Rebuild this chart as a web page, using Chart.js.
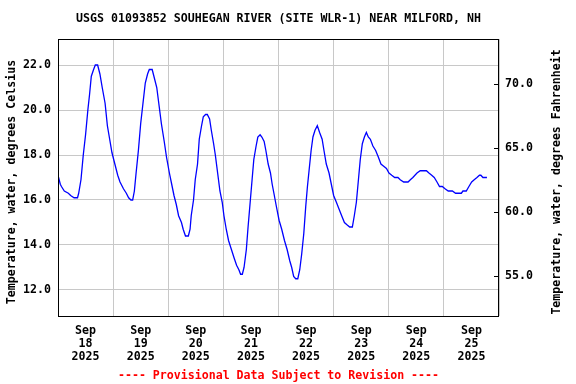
<!DOCTYPE html>
<html>
<head>
<meta charset="utf-8">
<script src="https://cdn.jsdelivr.net/npm/chart.js@4.4.1/dist/chart.umd.min.js"></script>
<style>
  html, body { margin: 0; padding: 0; background: #ffffff; }
  canvas { display: block; }
</style>
</head>
<body>
<canvas id="c" width="576" height="384"></canvas>
<script>
// ---- Data (hours since Sep 18 2025 00:00, water temperature in °C) ----
const hours = [0,1,1.5,2.75,4.5,5.5,7,8.5,9,10,11,12,13,13.75,14.5,15.5,16.25,17.25,18.25,19.25,20.5,21.5,22.5,23.5,24.75,26,27,28.5,29.75,30.75,31.75,32.5,33.25,34,35,36,37,38,39,39.75,41,41.75,43,44,45,46.25,47.25,48.5,49.5,50.5,51.5,52.5,53.75,54.5,55.5,56.75,57.5,58,59,59.75,60.75,61.5,62.5,63.25,64.25,65,66,66.75,67.75,68.5,69.5,70.5,71.5,72.25,73.25,74.25,75.5,76.75,77.75,78.75,79.5,80.25,81,82,82.75,83.75,84.5,85.25,86.25,87,88,88.75,89.75,90.5,91.5,92.5,93.25,94,95.1,96.25,97.4,98.6,99.75,100.9,101.75,102.6,103.5,104.4,105.25,106.1,107,107.85,108.6,109.3,110.2,111,111.9,112.9,113.9,115,115.8,116.8,118,119,120,121.2,122.35,123.5,124.7,125.8,127,128.15,129,129.9,130.8,131.6,132.5,133.4,134.25,135.1,136,137.1,138.3,139.5,140.6,141.8,143,144.1,145.3,146.6,148,149,150.5,152.4,153.4,154.5,156.3,157.7,160.4,161.5,162.7,163.8,165,166.1,167.3,168.5,169.9,171.7,173.1,175.6,176.3,177.75,178.9,180.1,181.2,182.4,183.5,184.1,185,186.75];
const tempC = [17.1,16.7,16.6,16.4,16.3,16.2,16.1,16.1,16.3,16.9,18.0,18.9,20.0,20.7,21.5,21.8,22.0,22.0,21.6,21.0,20.3,19.3,18.7,18.1,17.6,17.1,16.8,16.5,16.3,16.1,16.0,16.0,16.4,17.2,18.2,19.4,20.3,21.2,21.6,21.8,21.8,21.5,21.0,20.2,19.4,18.6,17.9,17.2,16.7,16.2,15.8,15.3,15.0,14.7,14.4,14.4,14.7,15.3,16.0,16.9,17.6,18.7,19.3,19.7,19.8,19.8,19.6,19.1,18.5,18.0,17.2,16.4,15.9,15.3,14.7,14.2,13.8,13.4,13.1,12.9,12.7,12.7,13.0,13.8,14.8,16.0,16.9,17.8,18.4,18.8,18.9,18.8,18.6,18.2,17.6,17.2,16.7,16.3,15.7,15.1,14.7,14.2,13.8,13.3,13.0,12.6,12.5,12.5,12.9,13.6,14.5,15.7,16.6,17.3,18.2,18.8,19.1,19.3,19.0,18.7,18.2,17.6,17.2,16.7,16.2,15.9,15.6,15.3,15.0,14.9,14.8,14.8,15.3,15.9,16.9,17.8,18.5,18.8,19.0,18.8,18.7,18.4,18.2,17.9,17.6,17.5,17.4,17.2,17.1,17.0,17.0,16.9,16.8,16.8,16.9,17.0,17.2,17.3,17.3,17.2,17.1,17.0,16.8,16.6,16.6,16.5,16.4,16.4,16.3,16.3,16.4,16.4,16.6,16.8,16.9,17.0,17.1,17.1,17.0,17.0];

// ---- Tick labels ----
const dayTickHours = [12,36,60,84,108,132,156,180];
const dayMonth = 'Sep';
const dayNumbers = ['18','19','20','21','22','23','24','25'];
const dayYear = '2025';
const celsiusTicks = [12,14,16,18,20,22];
const fahrenheitTicks = [55,60,65,70];

// ---- Texts ----
const chartTitle = 'USGS 01093852 SOUHEGAN RIVER (SITE WLR-1) NEAR MILFORD, NH';
const leftTitle = 'Temperature, water, degrees Celsius';
const rightTitle = 'Temperature, water, degrees Fahrenheit';
const footerText = '---- Provisional Data Subject to Revision ----';

const FONT_FAMILY = '"DejaVu Sans Mono", "Liberation Mono", monospace';
const FONT_SIZE = 11.6;
const fontStr = 'bold ' + FONT_SIZE + 'px ' + FONT_FAMILY;

const points = hours.map((h, i) => ({ x: h, y: tempC[i] }));

const decorPlugin = {
  id: 'decor',
  beforeDraw(chart) {
    const ctx = chart.ctx;
    ctx.save();
    ctx.fillStyle = '#ffffff';
    ctx.fillRect(0, 0, chart.width, chart.height);
    ctx.restore();
  },
  afterDraw(chart) {
    const ctx = chart.ctx;
    const a = chart.chartArea;
    const cx = (a.left + a.right) / 2;
    ctx.save();
    // frame
    ctx.strokeStyle = '#000000';
    ctx.lineWidth = 1;
    ctx.strokeRect(a.left + 0.5, a.top + 0.5, a.right - a.left - 1, a.bottom - a.top);
    // inward ticks of the Fahrenheit axis
    const yF = chart.scales.yF;
    ctx.beginPath();
    fahrenheitTicks.forEach(v => {
      const p = Math.round(yF.getPixelForValue(v)) + 0.5;
      ctx.moveTo(a.right - 5, p);
      ctx.lineTo(a.right, p);
    });
    ctx.stroke();
    // texts
    ctx.font = fontStr;
    ctx.textAlign = 'center';
    ctx.textBaseline = 'middle';
    ctx.fillStyle = '#000000';
    ctx.fillText(chartTitle, cx, 19);
    ctx.fillStyle = '#ff0000';
    ctx.fillText(footerText, cx, 376);
    ctx.fillStyle = '#000000';
    ctx.save();
    ctx.translate(12, 182);
    ctx.rotate(-Math.PI / 2);
    ctx.fillText(leftTitle, 0, 0);
    ctx.restore();
    ctx.save();
    ctx.translate(557, 182);
    ctx.rotate(-Math.PI / 2);
    ctx.fillText(rightTitle, 0, 0);
    ctx.restore();
    ctx.restore();
  }
};

new Chart(document.getElementById('c'), {
  type: 'line',
  data: {
    datasets: [{
      data: points,
      borderColor: '#0000ff',
      borderWidth: 1.3,
      pointRadius: 0,
      tension: 0,
      fill: false,
      yAxisID: 'y'
    }]
  },
  options: {
    responsive: false,
    animation: false,
    devicePixelRatio: 1,
    layout: { padding: { top: 39, left: 0, right: 0, bottom: 0 } },
    plugins: { legend: { display: false }, tooltip: { enabled: false }, title: { display: false } },
    scales: {
      x: {
        type: 'linear',
        min: 0,
        max: 192,
        afterBuildTicks: s => { s.ticks = dayTickHours.map(v => ({ value: v })); },
        afterFit: s => { s.height = 68; },
        grid: { color: '#c8c8c8', lineWidth: 1, offset: true, drawTicks: false },
        border: { display: false },
        ticks: {
          autoSkip: false,
          maxRotation: 0,
          minRotation: 0,
          padding: 8.5,
          color: '#000000',
          font: { family: FONT_FAMILY, size: FONT_SIZE, weight: 'bold', lineHeight: '13px' },
          callback: (v) => {
            const i = dayTickHours.indexOf(v);
            return i >= 0 ? [dayMonth, dayNumbers[i], dayYear] : '';
          }
        }
      },
      y: {
        type: 'linear',
        position: 'left',
        min: 10.844,
        max: 23.156,
        afterBuildTicks: s => { s.ticks = celsiusTicks.map(v => ({ value: v })); },
        afterFit: s => { s.width = 58; },
        grid: { color: '#c8c8c8', lineWidth: 1, drawTicks: false },
        border: { display: false },
        ticks: {
          padding: 7,
          color: '#000000',
          font: { family: FONT_FAMILY, size: FONT_SIZE, weight: 'bold' },
          callback: v => Number(v).toFixed(1)
        }
      },
      yF: {
        type: 'linear',
        position: 'right',
        min: 51.875,
        max: 73.52,
        afterBuildTicks: s => { s.ticks = fahrenheitTicks.map(v => ({ value: v })); },
        afterFit: s => { s.width = 77; },
        grid: { drawOnChartArea: false, drawTicks: false },
        border: { display: false },
        ticks: {
          padding: 6,
          color: '#000000',
          font: { family: FONT_FAMILY, size: FONT_SIZE, weight: 'bold' },
          callback: v => Number(v).toFixed(1)
        }
      }
    }
  },
  plugins: [decorPlugin]
});
</script>
</body>
</html>
